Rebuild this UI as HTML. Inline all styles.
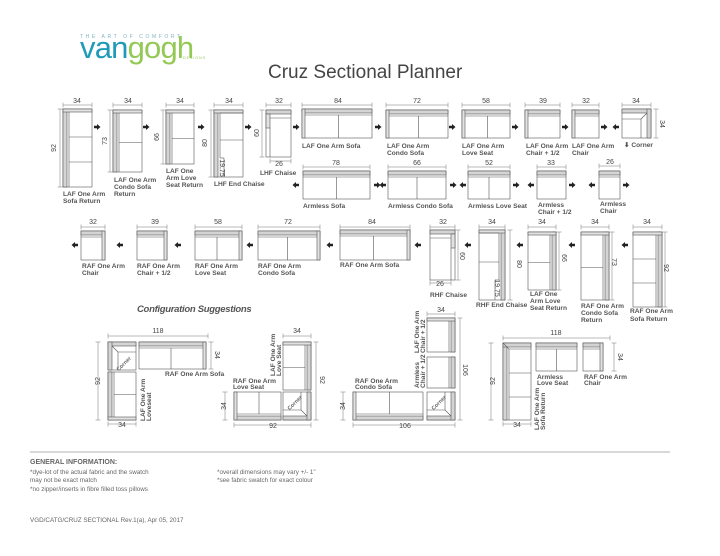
<!DOCTYPE html>
<html><head><meta charset="utf-8"><style>
html,body{margin:0;padding:0;background:#fff;width:720px;height:556px;overflow:hidden}
svg{display:block}
.d{font-family:"Liberation Sans",sans-serif;font-size:7px;fill:#444}
.l{font-family:"Liberation Sans",sans-serif;font-size:6.6px;font-weight:bold;fill:#555}
.f{font-family:"Liberation Sans",sans-serif;font-size:6.3px;fill:#666}
</style></head><body>
<svg id="s" width="720" height="556" viewBox="0 0 720 556" xmlns="http://www.w3.org/2000/svg">
<g id="g"></g>
<text x="80" y="38" font-family="Liberation Sans,sans-serif" font-size="5" letter-spacing="2.6" fill="#7fb6c3">THE ART OF COMFORT</text>
<text x="80" y="58" font-family="Liberation Sans,sans-serif" font-size="31" letter-spacing="-0.8" fill="#1f9ab8">van<tspan fill="#93c954">gogh</tspan></text>
<text x="183" y="59" font-family="Liberation Sans,sans-serif" font-size="3.6" letter-spacing="1" fill="#93c954">DESIGNS</text>
<text x="268" y="78" font-family="Liberation Sans,sans-serif" font-size="19" fill="#444">Cruz Sectional Planner</text>

<!-- dims row1 -->
<text class="d" x="77" y="103" text-anchor="middle">34</text>
<text class="d" x="128" y="103" text-anchor="middle">34</text>
<text class="d" x="180" y="103" text-anchor="middle">34</text>
<text class="d" x="229" y="103" text-anchor="middle">34</text>
<text class="d" x="279" y="103" text-anchor="middle">32</text>
<text class="d" x="338" y="103" text-anchor="middle">84</text>
<text class="d" x="417" y="103" text-anchor="middle">72</text>
<text class="d" x="486" y="103" text-anchor="middle">58</text>
<text class="d" x="543" y="103" text-anchor="middle">39</text>
<text class="d" x="586" y="103" text-anchor="middle">32</text>
<text class="d" x="636" y="103" text-anchor="middle">34</text>
<text class="d" transform="translate(56,148) rotate(-90)" text-anchor="middle">92</text>
<text class="d" transform="translate(107,141) rotate(-90)" text-anchor="middle">73</text>
<text class="d" transform="translate(159,137) rotate(-90)" text-anchor="middle">66</text>
<text class="d" transform="translate(207,143) rotate(-90)" text-anchor="middle">80</text>
<text class="d" transform="translate(259,133) rotate(-90)" text-anchor="middle">60</text>
<text class="d" transform="translate(660,124) rotate(90)" text-anchor="middle">34</text>
<text class="d" transform="translate(220,168) rotate(90)" text-anchor="middle" font-size="5.5">19.75</text>
<text class="d" x="279" y="166" text-anchor="middle">26</text>

<text class="l" x="63" y="196">LAF One Arm</text><text class="l" x="63" y="203">Sofa Return</text>
<text class="l" x="114" y="182">LAF One Arm</text><text class="l" x="114" y="189">Condo Sofa</text><text class="l" x="114" y="196">Return</text>
<text class="l" x="166" y="173">LAF One</text><text class="l" x="166" y="180">Arm Love</text><text class="l" x="166" y="187">Seat Return</text>
<text class="l" x="214" y="186">LHF End Chaise</text>
<text class="l" x="260" y="175">LHF Chaise</text>
<text class="l" x="302" y="148">LAF One Arm Sofa</text>
<text class="l" x="387" y="148">LAF One Arm</text><text class="l" x="387" y="155">Condo Sofa</text>
<text class="l" x="462" y="148">LAF One Arm</text><text class="l" x="462" y="155">Love Seat</text>
<text class="l" x="526" y="148">LAF One Arm</text><text class="l" x="526" y="155">Chair + 1/2</text>
<text class="l" x="572" y="148">LAF One Arm</text><text class="l" x="572" y="155">Chair</text>
<text class="l" x="624" y="147">⬇ Corner</text>

<!-- row2 -->
<text class="d" x="336" y="165" text-anchor="middle">78</text>
<text class="d" x="417" y="165" text-anchor="middle">66</text>
<text class="d" x="489" y="165" text-anchor="middle">52</text>
<text class="d" x="551" y="165" text-anchor="middle">33</text>
<text class="d" x="610" y="164" text-anchor="middle">26</text>
<text class="l" x="303" y="208">Armless Sofa</text>
<text class="l" x="388" y="208">Armless Condo Sofa</text>
<text class="l" x="468" y="208">Armless Love Seat</text>
<text class="l" x="538" y="207">Armless</text><text class="l" x="538" y="214">Chair + 1/2</text>
<text class="l" x="600" y="206">Armless</text><text class="l" x="600" y="213">Chair</text>

<!-- row3 -->
<text class="d" x="93" y="224" text-anchor="middle">32</text>
<text class="d" x="155" y="224" text-anchor="middle">39</text>
<text class="d" x="218" y="224" text-anchor="middle">58</text>
<text class="d" x="288" y="224" text-anchor="middle">72</text>
<text class="d" x="372" y="224" text-anchor="middle">84</text>
<text class="d" x="443" y="224" text-anchor="middle">32</text>
<text class="d" x="492" y="224" text-anchor="middle">34</text>
<text class="d" x="542" y="224" text-anchor="middle">34</text>
<text class="d" x="595" y="224" text-anchor="middle">34</text>
<text class="d" x="647" y="224" text-anchor="middle">34</text>
<text class="d" transform="translate(460,256) rotate(90)" text-anchor="middle">60</text>
<text class="d" transform="translate(517,264) rotate(90)" text-anchor="middle">80</text>
<text class="d" transform="translate(562,258) rotate(90)" text-anchor="middle">66</text>
<text class="d" transform="translate(612,262) rotate(90)" text-anchor="middle">73</text>
<text class="d" transform="translate(664,268) rotate(90)" text-anchor="middle">92</text>
<text class="d" transform="translate(495,288) rotate(90)" text-anchor="middle" font-size="5.5">19.75</text>
<text class="d" x="440" y="286" text-anchor="middle">26</text>
<text class="l" x="82" y="268">RAF One Arm</text><text class="l" x="82" y="275">Chair</text>
<text class="l" x="137" y="268">RAF One Arm</text><text class="l" x="137" y="275">Chair + 1/2</text>
<text class="l" x="195" y="268">RAF One Arm</text><text class="l" x="195" y="275">Love Seat</text>
<text class="l" x="258" y="268">RAF One Arm</text><text class="l" x="258" y="275">Condo Sofa</text>
<text class="l" x="340" y="267">RAF One Arm Sofa</text>
<text class="l" x="430" y="297">RHF Chaise</text>
<text class="l" x="476" y="307">RHF End Chaise</text>
<text class="l" x="530" y="296">LAF One</text><text class="l" x="530" y="303">Arm Love</text><text class="l" x="530" y="310">Seat Return</text>
<text class="l" x="581" y="308">RAF One Arm</text><text class="l" x="581" y="315">Condo Sofa</text><text class="l" x="581" y="322">Return</text>
<text class="l" x="630" y="313">RAF One Arm</text><text class="l" x="630" y="321">Sofa Return</text>

<text x="137" y="312" font-family="Liberation Sans,sans-serif" font-size="9.5" font-weight="bold" font-style="italic" fill="#555" letter-spacing="-0.3">Configuration Suggestions</text>

<!-- config dims -->
<text class="d" x="158" y="333" text-anchor="middle">118</text>
<text class="d" transform="translate(215,355) rotate(90)" text-anchor="middle">34</text>
<text class="d" transform="translate(100,381) rotate(-90)" text-anchor="middle">92</text>
<text class="d" x="122" y="427" text-anchor="middle">34</text>
<text class="l" x="165" y="376" font-size="6">RAF One Arm Sofa</text>
<text class="l" transform="translate(145,421) rotate(-90)" font-size="6">LAF One Arm</text>
<text class="l" transform="translate(151,421) rotate(-90)" font-size="6">Loveseat</text>

<text class="d" x="297" y="333" text-anchor="middle">34</text>
<text class="d" transform="translate(320,380) rotate(90)" text-anchor="middle">92</text>
<text class="d" transform="translate(226,406) rotate(-90)" text-anchor="middle">34</text>
<text class="d" x="273" y="428" text-anchor="middle">92</text>
<text class="l" x="233" y="383" font-size="6">RAF One Arm</text><text class="l" x="233" y="389" font-size="6">Love Seat</text>
<text class="l" transform="translate(275,376) rotate(-90)" font-size="6">LAF One Arm</text>
<text class="l" transform="translate(281,376) rotate(-90)" font-size="6">Love Seat</text>

<text class="d" x="441" y="312" text-anchor="middle">34</text>
<text class="d" transform="translate(463,370) rotate(90)" text-anchor="middle">106</text>
<text class="d" transform="translate(345,406) rotate(-90)" text-anchor="middle">34</text>
<text class="d" x="405" y="428" text-anchor="middle">106</text>
<text class="l" x="355" y="383" font-size="6">RAF One Arm</text><text class="l" x="355" y="389" font-size="6">Condo Sofa</text>
<text class="l" transform="translate(419,353) rotate(-90)" font-size="6">LAF One Arm</text>
<text class="l" transform="translate(425,353) rotate(-90)" font-size="6">Chair + 1/2</text>
<text class="l" transform="translate(419,388) rotate(-90)" font-size="6">Armless</text>
<text class="l" transform="translate(425,388) rotate(-90)" font-size="6">Chair + 1/2</text>

<text class="d" x="556" y="335" text-anchor="middle">118</text>
<text class="d" transform="translate(618,357) rotate(90)" text-anchor="middle">34</text>
<text class="d" transform="translate(495,381) rotate(-90)" text-anchor="middle">92</text>
<text class="d" x="517" y="427" text-anchor="middle">34</text>
<text class="l" x="537" y="379" font-size="6">Armless</text><text class="l" x="537" y="385" font-size="6">Love Seat</text>
<text class="l" x="584" y="379" font-size="6">RAF One Arm</text><text class="l" x="584" y="385" font-size="6">Chair</text>
<text class="l" transform="translate(539,430) rotate(-90)" font-size="6">LAF One Arm</text>
<text class="l" transform="translate(545,430) rotate(-90)" font-size="6">Sofa Return</text>

<text font-size="5.5" fill="#666" font-family="Liberation Sans,sans-serif" transform="translate(125,365) rotate(-45)" text-anchor="middle" font-weight="bold">Corner</text>
<text font-size="5.5" fill="#666" font-family="Liberation Sans,sans-serif" transform="translate(296,404) rotate(-45)" text-anchor="middle" font-weight="bold">Corner</text>
<text font-size="5.5" fill="#666" font-family="Liberation Sans,sans-serif" transform="translate(440,404) rotate(-45)" text-anchor="middle" font-weight="bold">Corner</text>

<!-- footer -->
<line x1="30" y1="452" x2="670" y2="452" stroke="#999" stroke-width="0.8"/>
<text x="30" y="464" font-family="Liberation Sans,sans-serif" font-size="7" font-weight="bold" fill="#666">GENERAL INFORMATION:</text>
<text class="f" x="30" y="474">*dye-lot of the actual fabric and the swatch</text>
<text class="f" x="30" y="482">  may not be exact match</text>
<text class="f" x="30" y="491">*no zipper/inserts in fibre filled toss pillows</text>
<text class="f" x="217" y="474">*overall dimensions may vary +/- 1"</text>
<text class="f" x="217" y="482">*see fabric swatch for exact colour</text>
<text class="f" x="30" y="522" font-size="6.5">VGD/CATG/CRUZ SECTIONAL Rev.1(a), Apr 05, 2017</text>
</svg>
<script>
var g=document.getElementById('g'),S='http://www.w3.org/2000/svg';
function E(t,a){var e=document.createElementNS(S,t);for(var k in a)e.setAttribute(k,a[k]);g.appendChild(e);return e}
function L(x1,y1,x2,y2,c,w){E('line',{x1:x1,y1:y1,x2:x2,y2:y2,stroke:c||'#555','stroke-width':w||0.6})}
function R(x,y,w,h,f){E('rect',{x:x,y:y,width:w,height:h,fill:f||'#fff',stroke:'#555','stroke-width':0.6})}
var B=4,A=3;
function band(x,y,w,h,s){if(s=='t')R(x,y,w,B,'#d4d4d4');if(s=='b')R(x,y+h-B,w,B,'#d4d4d4');if(s=='l')R(x,y,B,h,'#d4d4d4');if(s=='r')R(x+w-B,y,B,h,'#d4d4d4');}
function arm(x,y,w,h,s){if(s=='t')R(x,y,w,A,'#e2e2e2');if(s=='b')R(x,y+h-A,w,A,'#e2e2e2');if(s=='l')R(x,y,A,h,'#e2e2e2');if(s=='r')R(x+w-A,y,A,h,'#e2e2e2');}
function P(x,y,w,h,back,ar,n){R(x,y,w,h);
 var x0=x,x1=x+w,y0=y,y1=y+h;
 if(back=='t'){y0+=B+2}if(back=='b'){y1-=B+2}if(back=='l'){x0+=B+2}if(back=='r'){x1-=B+2}
 if(ar=='l')x0+=A;if(ar=='r')x1-=A;if(ar=='t')y0+=A;if(ar=='b')y1-=A;
 if(back=='t'||back=='b'){L(x0,back=='t'?y0:y1,x1,back=='t'?y0:y1);for(var i=1;i<n;i++){var xx=x0+(x1-x0)*i/n;L(xx,y0,xx,y1)}}
 else{L(back=='l'?x0:x1,y0,back=='l'?x0:x1,y1);for(var i=1;i<n;i++){var yy=y0+(y1-y0)*i/n;L(x0,yy,x1,yy)}}
 band(x,y,w,h,back);if(ar)arm(x,y,w,h,ar);}
function C(x,y,w,h,a,b){R(x,y,w,h);band(x,y,w,h,a);band(x,y,w,h,b);
 var cx=(b=='r'||a=='r')?x+w:x,cy=(a=='t'||b=='t')?y:y+h;var dx=cx==x?1:-1,dy=cy==y?1:-1;
 L(cx+dx*B,cy+dy*B,cx+dx*(B+6),cy+dy*(B+6));
 var ix=cx+dx*(B+6),iy=cy+dy*(B+6);L(ix,iy,cx==x?x+w:x,iy);L(ix,iy,ix,cy==y?y+h:y);}
function DH(x1,x2,y){L(x1,y,x2,y,'#777',0.5);L(x1,y-2.5,x1,y+2.5,'#777',0.5);L(x2,y-2.5,x2,y+2.5,'#777',0.5)}
function DV(x,y1,y2){L(x,y1,x,y2,'#777',0.5);L(x-2.5,y1,x+2.5,y1,'#777',0.5);L(x-2.5,y2,x+2.5,y2,'#777',0.5)}
function AR(x,y,d){var s=d>0?1:-1;E('path',{d:'M'+(x-3*s)+' '+(y-1.2)+'L'+x+' '+(y-1.2)+'L'+x+' '+(y-3)+'L'+(x+3.5*s)+' '+y+'L'+x+' '+(y+3)+'L'+x+' '+(y+1.2)+'L'+(x-3*s)+' '+(y+1.2)+'Z',fill:'#222'})}
// row1 returns
P(63,109,29,78,'l','t',3);DH(63,92,105);DV(60,109,187);
P(113,110,29,62,'l','t',2);DH(113,142,105);DV(110,110,172);
P(166,110,28,54,'l','t',2);DH(166,194,105);DV(163,110,164);
R(214,110,29,67);band(214,110,29,67,'l');arm(214,110,29,67,'t');L(220,113,220,158);L(220,158,224,158);L(224,158,224,177);L(220,113,243,113);L(220,140,243,140);L(220,160,220,177,'#777',0.4);
DH(214,243,105);DV(211,110,177);
R(266,110,25,47);R(266,110,25,B,'#d4d4d4');L(266,118,291,118);R(266,114,4,14,'#e2e2e2');L(270,128,270,157);DH(266,291,105);DV(262,110,157);DH(270,291,161);
// row1 horizontal
P(302,109,70,29,'t','l',2);DH(302,372,105);
P(386,110,62,28,'t','l',2);DH(386,448,105);
P(462,110,48,28,'t','l',2);DH(462,510,105);
P(525,110,35,28,'t','l',1);DH(525,560,105);
P(572,110,27,28,'t','l',1);DH(572,599,105);
C(622,109,29,29,'t','r');DH(622,651,105);DV(656,109,138);
[97,146,201,248,296,378,452,515,565,604].forEach(function(x){AR(x,127,1)});AR(616,127,-1);
// row2
P(303,171,67,28,'t','',2);DH(303,370,167);
P(388,171,58,28,'t','',2);DH(388,446,167);
P(468,171,42,28,'t','',2);DH(468,510,167);
P(537,171,29,28,'t','',1);DH(537,566,167);
P(599,171,21,28,'t','',1);DH(599,620,166);
AR(296,185,-1);AR(377,185,1);AR(383,185,-1);AR(453,185,1);AR(463,185,-1);AR(516,185,1);AR(531,185,-1);AR(572,185,1);AR(592,185,-1);AR(626,185,1);
// row3
P(81,231,24,29,'t','r',1);DH(81,105,227);
P(137,231,30,29,'t','r',1);DH(137,167,227);
P(195,231,47,29,'t','r',2);DH(195,242,227);
P(258,231,62,29,'t','r',2);DH(258,320,227);
P(340,230,70,30,'t','r',2);DH(340,410,227);
R(430,230,25,50);R(430,230,25,B,'#d4d4d4');L(430,238,455,238);R(451,234,4,14,'#e2e2e2');L(451,248,451,280);DH(430,455,227);DV(458,230,280);DH(430,451,283);
R(479,230,26,70);band(479,230,26,70,'r');arm(479,230,26,70,'t');L(499,233,499,280);L(495,280,499,280);L(495,280,495,300);L(479,233,499,233);L(479,262,499,262);
DH(479,505,227);DV(510,230,300);
P(528,232,28,58,'r','t',2);DH(528,556,227);DV(559,232,290);
P(581,232,28,68,'r','t',2);DH(581,609,227);DV(612,232,300);
P(633,232,29,75,'r','t',3);DH(633,662,227);DV(665,232,307);
[75,120,178,250,330,418,468,520,572,625].forEach(function(x){AR(x,245,-1)});
// config1
C(108,342,28,28,'t','l');P(139,342,67,27,'t','r',2);P(108,372,28,48,'l','b',2);
DH(108,208,336);DV(211,342,369);DV(98,342,420);DH(108,136,424);
// config2
P(283,342,28,48,'r','t',2);C(283,392,28,28,'b','r');P(234,392,47,28,'b','l',2);
DH(283,311,336);DV(316,342,420);DV(225,392,420);DH(234,311,425);
// config3
P(427,318,28,34,'r','t',1);P(427,357,28,31,'r','',1);C(427,392,28,28,'b','r');P(353,392,70,28,'b','l',2);
DH(427,455,314);DV(460,318,420);DV(343,392,420);DH(353,455,425);
// config4
R(503,343,28,77);band(503,343,28,77,'l');band(503,343,28,77,'t');L(509,349,509,420);L(509,349,531,349);L(503,343,509,349);L(509,373,531,373);L(509,397,531,397);
P(536,343,41,28,'t','',2);P(583,343,20,28,'t','r',1);
DH(503,610,338);DV(614,343,371);DV(491,343,420);DH(503,531,424);
</script>
</body></html>
